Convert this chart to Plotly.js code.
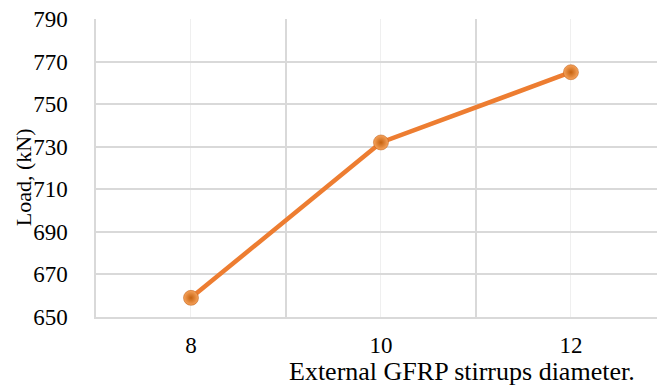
<!DOCTYPE html>
<html>
<head>
<meta charset="utf-8">
<script src="https://cdn.plot.ly/plotly-3.0.1.min.js"></script>
<style>
  html, body { margin: 0; padding: 0; background: #ffffff; }
  #chart { width: 657px; height: 386px; }
</style>
</head>
<body>
<div id="chart"></div>
<script>
// Stirrup diameters (categories) and measured load
const diameters = ['8', '10', '12'];
const loadKN = [659, 732, 765];
const yTicks = [650, 670, 690, 710, 730, 750, 770, 790];

const SERIF = 'Liberation Serif';
const idx = diameters.map((d, i) => i);

function draw() {
  const trace = {
    x: idx,
    y: loadKN,
    type: 'scatter',
    mode: 'lines+markers',
    line: { color: '#ED7D31', width: 4.5 },
    marker: {
      size: 15,
      color: '#F7A35C',
      gradient: { type: 'radial', color: '#C5620F' },
      line: { color: '#B8580E', width: 0.5 }
    },
    hoverinfo: 'x+y'
  };

  const layout = {
    width: 657,
    height: 386,
    margin: { l: 96, r: 0, t: 19, b: 69 },
    paper_bgcolor: '#ffffff',
    plot_bgcolor: '#ffffff',
    showlegend: false,
    font: { family: SERIF, size: 23, color: '#000000' },
    xaxis: {
      range: [-0.5, 2.453],
      tickmode: 'array',
      tickvals: idx,
      ticktext: diameters,
      ticks: '',
      showgrid: true,
      gridcolor: '#EFEFEF',
      gridwidth: 1,
      minor: {
        tickmode: 'array',
        tickvals: [-0.5, 0.5, 1.5, 2.5],
        showgrid: true,
        gridcolor: '#D9D9D9',
        gridwidth: 1.5,
        ticks: ''
      },
      zeroline: false,
      showline: true,
      linecolor: '#D9D9D9',
      linewidth: 1.5,
      tickfont: { family: SERIF, size: 23, color: '#000000' },
      ticklabelstandoff: 7,
      fixedrange: true
    },
    yaxis: {
      range: [650, 790],
      tickmode: 'array',
      tickvals: yTicks,
      ticks: '',
      showgrid: true,
      gridcolor: '#D9D9D9',
      gridwidth: 1.5,
      zeroline: false,
      showline: true,
      linecolor: '#D9D9D9',
      linewidth: 1.5,
      tickfont: { family: SERIF, size: 23, color: '#000000' },
      ticklabelstandoff: 22,
      fixedrange: true
    },
    annotations: [
      {
        text: 'Load, (kN)',
        xref: 'paper', yref: 'paper',
        x: -0.129, y: 0.468,
        xanchor: 'center', yanchor: 'middle',
        textangle: -90,
        showarrow: false,
        font: { family: SERIF, size: 22, color: '#000000' }
      },
      {
        text: 'External GFRP stirrups diameter.',
        xref: 'paper', yref: 'paper',
        x: 0.653, y: -0.182,
        xanchor: 'center', yanchor: 'middle',
        showarrow: false,
        font: { family: SERIF, size: 26, color: '#000000' }
      }
    ]
  };

  Plotly.newPlot('chart', [trace], layout, { displayModeBar: false });
}

// draw once the serif face is ready so text is measured with it
if (document.fonts && document.fonts.load) {
  document.fonts.load('23px "Liberation Serif"').then(draw, draw);
} else {
  draw();
}
</script>
</body>
</html>
